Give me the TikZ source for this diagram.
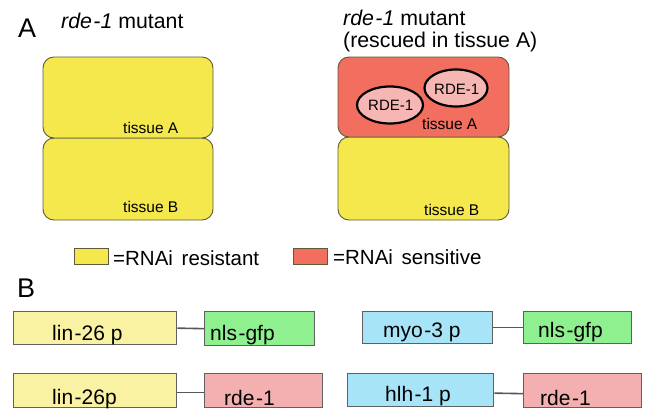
\documentclass[tikz,border=0pt]{standalone}
\usepackage{fontspec}
\setmainfont{Liberation Sans}
\usetikzlibrary{shapes.geometric}
\definecolor{tyellow}{HTML}{F4E84C}
\definecolor{tred}{HTML}{F26E5E}
\definecolor{tpink}{HTML}{F6B7B4}
\definecolor{tedge}{HTML}{5E5A3A}
\definecolor{gyellow}{HTML}{F8F2A2}
\definecolor{ggreen}{HTML}{8EF08E}
\definecolor{gblue}{HTML}{A8E4F8}
\definecolor{gpink}{HTML}{F4B0B0}
\definecolor{gedge}{HTML}{606060}
\tikzset{
  tissue/.style={draw=tedge, line width=0.9pt, rounded corners=11pt},
  gene/.style={draw=gedge, line width=1.3pt},
  lab/.style={anchor=base west, inner sep=0pt},
  tlab/.style={lab, font=\fontsize{15.5}{15.5}\selectfont},
  glab/.style={lab, font=\fontsize{21}{21}\selectfont},
  title/.style={lab, font=\fontsize{21.3}{21.3}\selectfont},
  legend/.style={lab, font=\fontsize{20.5}{20.5}\selectfont},
  panel/.style={lab, font=\fontsize{27}{27}\selectfont},
  rde/.style={ellipse, draw=black, line width=2.2pt, fill=tpink, inner sep=0pt},
  conn/.style={draw=gedge!90!black, line width=1.6pt},
}
\newcommand{\hy}{\kern1.5pt-}
\begin{document}
\begin{tikzpicture}[x=1pt,y=-1pt]
\useasboundingbox (0,0) rectangle (645,415);
% Panel A
\node[panel] (pA) at (18,37) {A};
\node[title] (t1) at (61,28) {\textit{rde\hy1} mutant};
\node[title] (t2) at (343,25) {\textit{rde\hy1} mutant};
\node[title] (t3) at (343,47) {(rescued in tissue A)};
% left tissues
\draw[tissue, fill=tyellow] (43,138) rectangle (213,220);
\draw[tissue, fill=tyellow] (43,57) rectangle (213,138);
\node[tlab] (la) at (123,133) {tissue A};
\node[tlab] (lb) at (123,212) {tissue B};
% right tissues
\draw[tissue, fill=tyellow] (338,137) rectangle (509,220);
\draw[tissue, fill=tred] (338,57) rectangle (509,137);
\node[tlab] (ra) at (422,129) {tissue A};
\node[tlab] (rb) at (424,215) {tissue B};
\node[rde, minimum width=66pt, minimum height=37pt] (e1) at (390,105) {};
\node[tlab, font=\fontsize{15}{15}\selectfont] (e1t) at (368,110) {RDE-1};
\node[rde, minimum width=63pt, minimum height=37pt] (e2) at (456,88) {};
\node[tlab, font=\fontsize{15}{15}\selectfont] (e2t) at (434,94) {RDE-1};
% legend
\draw[draw=tedge, line width=0.9pt, fill=tyellow] (74,248) rectangle (108,264);
\node[legend] (lg1) at (113,265) {=RNAi\kern3pt{} resistant};
\draw[draw=tedge, line width=0.9pt, fill=tred] (293,248) rectangle (327,264);
\node[legend] (lg2) at (333,264) {=RNAi\kern3pt{} sensitive};
% Panel B
\node[panel] (pB) at (17,297) {B};
\node[gene, fill=gyellow, minimum width=163pt, minimum height=33pt, anchor=north west] (g1) at (13,311) {};
\node[gene, fill=ggreen, minimum width=110pt, minimum height=34pt, anchor=north west] (g2) at (204,311) {};
\node[gene, fill=gblue, minimum width=130pt, minimum height=32pt, anchor=north west] (g3) at (362,311) {};
\node[gene, fill=ggreen, minimum width=108pt, minimum height=32pt, anchor=north west] (g4) at (523,311) {};
\node[gene, fill=gyellow, minimum width=163pt, minimum height=34pt, anchor=north west] (g5) at (13,373) {};
\node[gene, fill=gpink, minimum width=118pt, minimum height=34pt, anchor=north west] (g6) at (204,373) {};
\node[gene, fill=gblue, minimum width=146pt, minimum height=33pt, anchor=north west] (g7) at (347,373) {};
\node[gene, fill=gpink, minimum width=118pt, minimum height=34pt, anchor=north west] (g8) at (523,373) {};
\draw[conn] (g1.east) -- (g2.west);
\draw[conn] (g3.east) -- (g4.west);
\draw[conn] ([yshift=-2pt]g5.east) -- ([yshift=-2pt]g6.west);
\draw[conn] ([yshift=-3pt]g7.east) -- ([yshift=-3pt]g8.west);
\node[glab] (g1t) at (52,340) {lin\hy26 p};
\node[glab] (g2t) at (210,340) {nls\hy gfp};
\node[glab] (g3t) at (383,337) {myo\hy3 p};
\node[glab] (g4t) at (538,337) {nls\hy gfp};
\node[glab] (g5t) at (52,404) {lin\hy26p};
\node[glab] (g6t) at (224,405) {rde\hy1};
\node[glab] (g7t) at (385,401) {hlh\hy1 p};
\node[glab] (g8t) at (540,405) {rde\hy1};
\end{tikzpicture}
\end{document}
